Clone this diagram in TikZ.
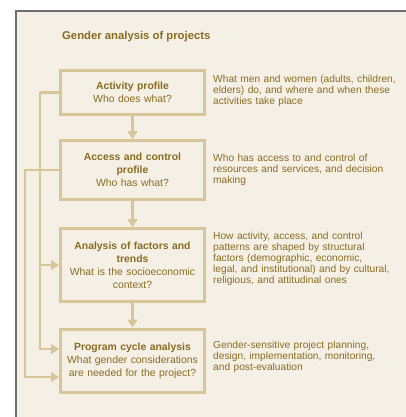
\documentclass[tikz,border=0pt]{standalone}
\usepackage{fontspec}
\setmainfont{Liberation Sans}
\usetikzlibrary{arrows.meta,calc}
\definecolor{paper}{HTML}{F4F0E6}
\definecolor{frameline}{HTML}{6E6E6E}
\definecolor{tan}{HTML}{D8C698}
\definecolor{ink}{HTML}{8A6C20}
\begin{document}
\begin{tikzpicture}[x=1pt,y=-1pt,
  stagebox/.style={draw=tan,line width=3pt,fill=paper,minimum width=144pt,
    text width=140pt,align=center,inner sep=0pt,text=ink,
    font=\fontsize{10.4}{13}\selectfont},
  note/.style={anchor=north west,text width=200pt,align=left,inner sep=0pt,
    text=ink,font=\fontsize{10.2}{11}\selectfont},
  link/.style={draw=tan,line width=2.6pt},
  flow/.style={link,-{Triangle[length=8pt,width=10pt]}}]
\useasboundingbox (0,0) rectangle (406,417);
\fill[white] (0,0) rectangle (406,417);
\fill[paper] (16,11) rectangle (406,417);
\draw[frameline,line width=1.3pt] (16,417) -- (16,11) -- (406,11);

\node[anchor=west,text=ink,font=\bfseries\fontsize{11.3}{13}\selectfont,inner sep=0pt]
  (title) at (62,37) {Gender analysis of projects};

\node[stagebox,minimum height=44pt] (b1) at (132.5,92.5)
  {\textbf{Activity profile}\\Who does what?};
\node[stagebox,minimum height=59pt] (b2) at (132.5,170)
  {\textbf{Access and control}\\\textbf{profile}\\Who has what?};
\node[stagebox,minimum height=73pt] (b3) at (132.5,265)
  {\textbf{Analysis of factors and}\\\textbf{trends}\\What is the socioeconomic\\context?};
\node[stagebox,minimum height=63pt] (b4) at (132.5,360.5)
  {\textbf{Program cycle analysis}\\What gender considerations\\are needed for the project?};

\draw[flow] (b1.south) -- (b2.north);
\draw[flow] (b2.south) -- (b3.north);
\draw[flow] (b3.south) -- (b4.north);

\coordinate (j1) at (40,92.5);
\coordinate (j2) at (25,170);
\coordinate (in4a) at (b4.west |- 0,349);
\coordinate (in4b) at (b4.west |- 0,377);
\draw[link] (b1.west) -- (j1);
\draw[flow] (j1) |- (b3.west);
\draw[flow] (j1) |- (in4a);
\draw[flow] (b2.west) -- (j2) |- (in4b);

\node[note] (n1) at (213,75) {What men and women (adults, children,\\elders) do, and where and when these\\activities take place};
\node[note] (n2) at (213,154) {Who has access to and control of\\resources and services, and decision\\making};
\node[note] (n3) at (213,232) {How activity, access, and control\\patterns are shaped by structural\\factors (demographic, economic,\\legal, and institutional) and by cultural,\\religious, and attitudinal ones};
\node[note] (n4) at (213,341) {Gender-sensitive project planning,\\design, implementation, monitoring,\\and post-evaluation};
\end{tikzpicture}
\end{document}
